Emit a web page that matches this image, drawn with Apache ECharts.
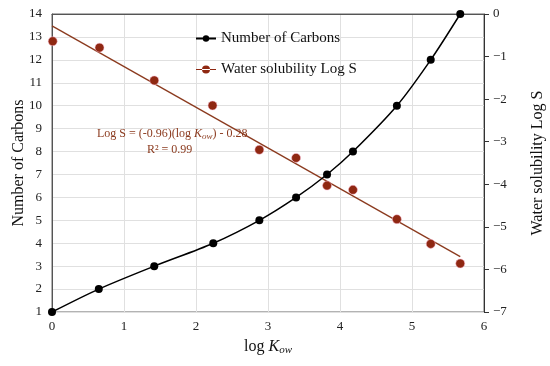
<!DOCTYPE html>
<html>
<head>
<meta charset="utf-8">
<script src="https://cdn.jsdelivr.net/npm/echarts@6/dist/echarts.min.js"></script>
<style>html,body{margin:0;padding:0;background:#fff}#c{width:550px;height:366px}</style>
</head>
<body>
<div id="c"></div>
<script>
// Data
var carbonLogK = [0.0, 0.65, 1.42, 2.24, 2.88, 3.39, 3.82, 4.18, 4.79, 5.26, 5.67];
var carbonCount = [1, 2, 3, 4, 5, 6, 7, 8, 10, 12, 14];
var waterLogK = [0.01, 0.66, 1.42, 2.23, 2.88, 3.39, 3.82, 4.18, 4.79, 5.26, 5.67];
var waterLogS = [-0.64, -0.79, -1.56, -2.15, -3.19, -3.38, -4.03, -4.13, -4.82, -5.40, -5.86];
var trendLogK = [0, 5.67];
var trendLogS = [-0.28, -5.70];
var xTicks = [0, 1, 2, 3, 4, 5, 6];

var SERIF = "'Liberation Serif','DejaVu Serif',serif";
var DOT = '#8f2812';
function pairs(a, b) { return a.map(function (v, i) { return [v, b[i]]; }); }

var chart = echarts.init(document.getElementById('c'));
chart.setOption({
  animation: false,
  backgroundColor: '#fff',
  textStyle: { fontFamily: SERIF },
  grid: { left: 52, right: 66, top: 14, bottom: 54, containLabel: false, outerBoundsMode: 'none',
    show: true, borderColor: '#666', borderWidth: 1 },
  legend: {
    orient: 'vertical', left: 190, top: 26, itemGap: 16, itemWidth: 20, itemHeight: 8,
    textStyle: { fontFamily: SERIF, fontSize: 15, color: '#111' },
    data: [
      { name: 'Number of Carbons' },
      { name: 'Water solubility Log S',
        icon: 'path://M0,3.4 L20,3.4 L20,4.6 L0,4.6 Z M6,4 A4,4 0 1 0 14,4 A4,4 0 1 0 6,4 Z',
        itemStyle: { color: DOT, borderWidth: 0, opacity: 1 } }
    ]
  },
  xAxis: {
    type: 'value', min: xTicks[0], max: xTicks[xTicks.length - 1], interval: 1,
    axisLine: { lineStyle: { color: '#555' } }, axisTick: { show: false },
    axisLabel: { fontFamily: SERIF, fontSize: 13, color: '#222', margin: 8 },
    splitLine: { lineStyle: { color: '#e0e0e0' } },
    name: '{a|log }{b|K}{c|ow}', nameLocation: 'middle', nameGap: 25, nameMoveOverlap: false,
    nameTextStyle: {
      rich: {
        a: { fontFamily: SERIF, fontSize: 16, color: '#111' },
        b: { fontFamily: SERIF, fontSize: 16, fontStyle: 'italic', color: '#111' },
        c: { fontFamily: SERIF, fontSize: 11, fontStyle: 'italic', color: '#111', padding: [8, 0, 0, 0] }
      }
    }
  },
  yAxis: [
    {
      type: 'value', min: 1, max: 14, interval: 1,
      axisLine: { show: true, lineStyle: { color: '#555' } }, axisTick: { show: false },
      axisLabel: { fontFamily: SERIF, fontSize: 13, color: '#222', margin: 10 },
      splitLine: { lineStyle: { color: '#e0e0e0' } },
      name: 'Number of Carbons', nameLocation: 'middle', nameGap: 25, nameMoveOverlap: false,
      nameTextStyle: { fontFamily: SERIF, fontSize: 16, color: '#111' }
    },
    {
      type: 'value', min: -7, max: 0, interval: 1, position: 'right',
      axisLine: { show: true, lineStyle: { color: '#333' } },
      axisTick: { show: true, inside: false, length: 5, lineStyle: { color: '#333' } },
      axisLabel: { fontFamily: SERIF, fontSize: 13, color: '#222', margin: 9,
        formatter: function (v) { return String(v).replace('-', '\u2212'); } },
      splitLine: { show: false },
      name: 'Water solubility Log S', nameLocation: 'middle', nameGap: 46, nameMoveOverlap: false,
      nameTextStyle: { fontFamily: SERIF, fontSize: 16, color: '#111' }
    }
  ],
  series: [
    {
      name: 'Number of Carbons', type: 'line', smooth: 0.3, yAxisIndex: 0,
      data: pairs(carbonLogK, carbonCount),
      symbol: 'circle', symbolSize: 8,
      lineStyle: { color: '#000', width: 1.5 }, itemStyle: { color: '#000' }, z: 3
    },
    {
      name: 'Water solubility Log S', type: 'scatter', yAxisIndex: 1,
      data: pairs(waterLogK, waterLogS),
      symbol: 'circle', symbolSize: 9,
      itemStyle: { color: DOT, opacity: 1, borderColor: 'rgba(255,190,215,0.5)', borderWidth: 1 }, z: 4
    },
    {
      name: 'trend', type: 'line', yAxisIndex: 1,
      data: pairs(trendLogK, trendLogS), symbol: 'none',
      lineStyle: { color: '#8b3a1e', width: 1.3 }, z: 2, silent: true
    }
  ],
  graphic: [
    {
      type: 'text', left: 97, top: 128, z: 10,
      style: {
        text: '{a|Log S = (-0.96)(log }{b|K}{c|ow}{a|) - 0.28}',
        rich: {
          a: { fontFamily: SERIF, fontSize: 12, fill: '#8b3a1e' },
          b: { fontFamily: SERIF, fontSize: 12, fontStyle: 'italic', fill: '#8b3a1e' },
          c: { fontFamily: SERIF, fontSize: 9, fontStyle: 'italic', fill: '#8b3a1e', padding: [6, 0, 0, 0] }
        }
      }
    },
    {
      type: 'text', left: 147, top: 144, z: 10,
      style: { text: 'R\u00b2 = 0.99', fontFamily: SERIF, fontSize: 12, fill: '#8b3a1e' }
    }
  ]
});
</script>
</body>
</html>
